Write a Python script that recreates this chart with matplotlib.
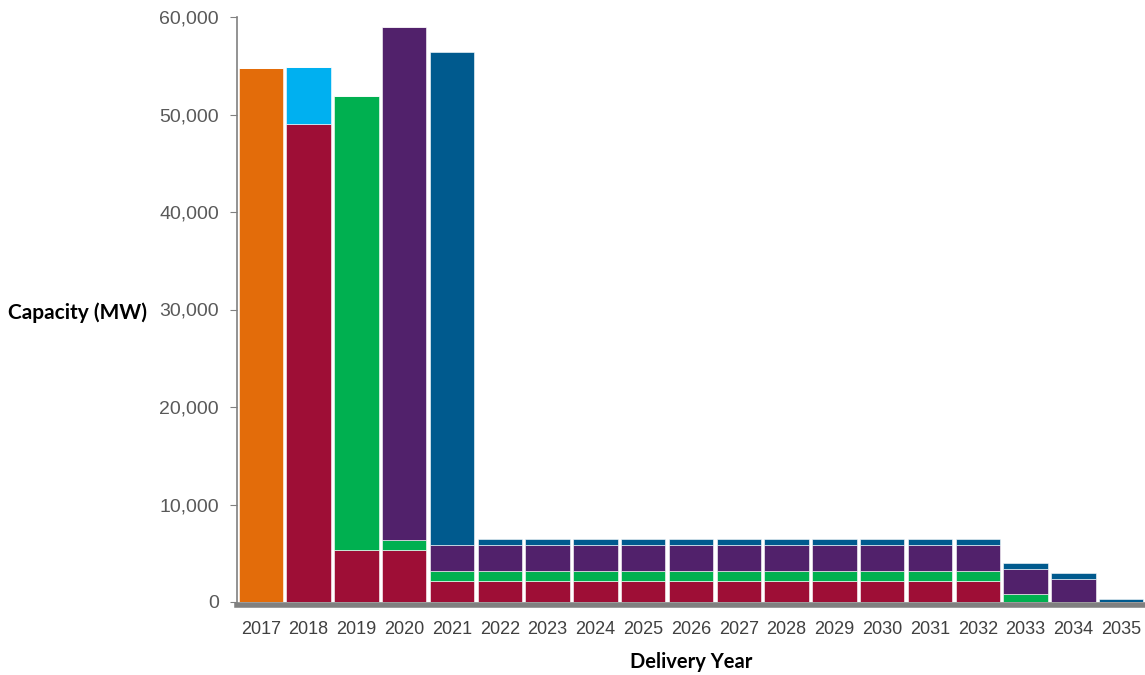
import numpy as np
import matplotlib.pyplot as plt
from matplotlib.ticker import FuncFormatter

years = [str(y) for y in range(2017, 2036)]

# capacity by segment (MW)
orange = [54800, 0, 0, 0, 0, 0, 0, 0, 0, 0, 0, 0, 0, 0, 0, 0, 0, 0, 0]
crimson = [0, 49000, 5300, 5300, 2200, 2200, 2200, 2200, 2200, 2200, 2200, 2200, 2200, 2200, 2200, 2200, 0, 0, 0]
light_blue = [0, 5900, 0, 0, 0, 0, 0, 0, 0, 0, 0, 0, 0, 0, 0, 0, 0, 0, 0]
green = [0, 0, 46600, 1050, 1000, 1000, 1000, 1000, 1000, 1000, 1000, 1000, 1000, 1000, 1000, 1000, 800, 0, 0]
purple = [0, 0, 0, 52650, 2650, 2650, 2650, 2650, 2650, 2650, 2650, 2650, 2650, 2650, 2650, 2600, 2600, 2400, 0]
dark_blue = [0, 0, 0, 0, 50600, 650, 650, 650, 650, 650, 650, 650, 650, 650, 650, 700, 600, 600, 350]

series = [
    (orange, "#E36C0A"),
    (crimson, "#9E0E36"),
    (light_blue, "#00B0F0"),
    (green, "#00B050"),
    (purple, "#51216B"),
    (dark_blue, "#005A8E"),
]

plt.rcParams['font.family'] = ['Liberation Sans', 'DejaVu Sans']

fig = plt.figure(figsize=(11.45, 6.75), dpi=100)
ax = fig.add_axes([237 / 1145, 1 - 602 / 675, 908 / 1145, 585 / 675])

x = np.arange(len(years))
bottom = np.zeros(len(years))
for vals, col in series:
    vals = np.array(vals, dtype=float)
    ax.bar(x, vals, width=0.93, bottom=bottom, color=col,
           edgecolor="#ffffff", linewidth=0.4, zorder=3)
    bottom += vals

ax.set_xlim(-0.5, len(years) - 0.5)
ax.set_ylim(0, 60000)
ax.set_yticks(range(0, 60001, 10000))
ax.yaxis.set_major_formatter(FuncFormatter(lambda v, p: f"{int(v):,}"))
ax.set_xticks(x)
ax.set_xticklabels(years)

ax.tick_params(axis="y", direction="out", length=5, color="#808080",
               labelsize=14, labelcolor="#595959", pad=8)
ax.tick_params(axis="x", length=0, labelsize=13, labelcolor="#404040", pad=12)

for s in ["top", "right"]:
    ax.spines[s].set_visible(False)
ax.spines["left"].set_color("#808080")
ax.spines["left"].set_linewidth(1.2)
ax.spines["bottom"].set_color("#808080")
ax.spines["bottom"].set_linewidth(4)
ax.spines["bottom"].set_position(("outward", 2))
ax.spines["left"].set_bounds(0, 60000)

ax.set_ylabel("Capacity (MW)", rotation=0, ha="right", va="center",
              fontsize=15, fontweight="bold", family=["Lato", "DejaVu Sans"])
ax.yaxis.set_label_coords(-0.099, 0.495)
ax.set_xlabel("Delivery Year", fontsize=14.5, fontweight="bold",
              family=["Lato", "DejaVu Sans"], labelpad=10)

fig.savefig("out.png", dpi=100)
